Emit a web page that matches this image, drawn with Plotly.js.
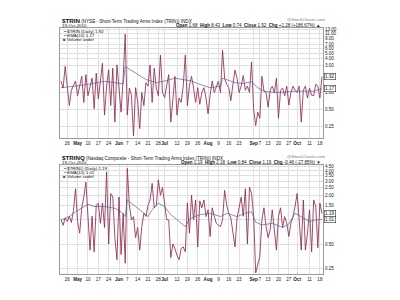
<!DOCTYPE html>
<html><head><meta charset="utf-8">
<script src="https://cdn.plot.ly/plotly-3.0.1.min.js"></script>
<style>html,body{margin:0;padding:0;background:#fff}#chart{width:400px;height:300px}</style>
</head><body><div id="chart"></div>
<script>
// ---- data ----
const dates = [
'2010-04-21','2010-04-22','2010-04-23','2010-04-26','2010-04-27','2010-04-28','2010-04-29','2010-04-30',
'2010-05-03','2010-05-04','2010-05-05','2010-05-06','2010-05-07','2010-05-10','2010-05-11','2010-05-12','2010-05-13','2010-05-14',
'2010-05-17','2010-05-18','2010-05-19','2010-05-20','2010-05-21','2010-05-24','2010-05-25','2010-05-26','2010-05-27','2010-05-28',
'2010-06-01','2010-06-02','2010-06-03','2010-06-04','2010-06-07','2010-06-08','2010-06-09','2010-06-10','2010-06-11',
'2010-06-14','2010-06-15','2010-06-16','2010-06-17','2010-06-18','2010-06-21','2010-06-22','2010-06-23','2010-06-24','2010-06-25',
'2010-06-28','2010-06-29','2010-06-30','2010-07-01','2010-07-02','2010-07-06','2010-07-07','2010-07-08','2010-07-09',
'2010-07-12','2010-07-13','2010-07-14','2010-07-15','2010-07-16','2010-07-19','2010-07-20','2010-07-21','2010-07-22','2010-07-23',
'2010-07-26','2010-07-27','2010-07-28','2010-07-29','2010-07-30','2010-08-02','2010-08-03','2010-08-04','2010-08-05','2010-08-06',
'2010-08-09','2010-08-10','2010-08-11','2010-08-12','2010-08-13','2010-08-16','2010-08-17','2010-08-18','2010-08-19','2010-08-20',
'2010-08-23','2010-08-24','2010-08-25','2010-08-26','2010-08-27','2010-08-30','2010-08-31','2010-09-01','2010-09-02','2010-09-03',
'2010-09-07','2010-09-08','2010-09-09','2010-09-10','2010-09-13','2010-09-14','2010-09-15','2010-09-16','2010-09-17',
'2010-09-20','2010-09-21','2010-09-22','2010-09-23','2010-09-24','2010-09-27','2010-09-28','2010-09-29','2010-09-30',
'2010-10-01','2010-10-04','2010-10-05','2010-10-06','2010-10-07','2010-10-08','2010-10-11','2010-10-12','2010-10-13','2010-10-14','2010-10-15',
'2010-10-18','2010-10-19'];

const trin = [
1.6,1.2,2.9,1.4,0.59,1.1,1.3,1.6,0.88,1.4,
1.94,0.67,2.08,0.88,1.3,1.81,0.52,2.21,0.77,1.5,
3.29,0.40,1.3,2.53,0.59,2.7,0.30,3.09,1.0,0.45,
1.8,10.8,0.40,1.2,0.9,0.17,1.22,0.7,0.23,1.0,
0.59,1.5,1.3,3.09,0.67,2.7,1.2,0.88,4.6,1.0,
0.82,1.3,2.08,0.30,0.9,1.94,0.40,0.8,0.67,1.3,
4.6,0.59,1.3,1.94,1.2,0.67,1.22,0.62,1.0,1.22,
0.8,0.42,0.9,1.6,1.0,1.22,1.59,1.0,5.6,1.8,
1.4,1.22,0.72,1.4,2.5,1.8,1.0,1.3,2.0,1.1,
1.3,1.0,3.5,0.5,0.26,0.45,0.35,1.94,1.06,1.0,
0.55,1.1,1.3,1.0,1.8,0.35,1.1,1.2,0.88,1.3,
0.6,1.0,1.3,1.1,1.0,1.3,0.30,1.1,1.3,0.8,
1.2,0.9,0.88,1.4,1.3,0.8,1.92];

const trinq = [
1.0,0.85,1.05,0.95,1.1,0.92,1.3,2.4,0.95,0.68,
1.4,1.9,2.9,1.0,0.42,1.1,0.40,1.5,1.6,0.9,
1.6,0.8,3.9,0.5,2.1,1.9,0.6,0.32,1.9,0.37,
1.2,0.29,4.3,1.5,0.99,1.09,0.6,0.8,0.42,0.82,
1.2,1.1,1.5,1.75,2.8,1.4,1.5,3.1,2.0,2.5,
1.45,1.0,0.99,0.34,0.5,0.44,0.36,0.32,0.44,0.46,
0.4,1.6,0.68,2.0,1.0,1.75,0.46,1.7,1.4,1.75,
1.09,1.32,0.62,1.4,1.1,0.9,0.85,0.82,1.0,2.3,
1.5,1.2,1.05,0.7,0.46,1.05,1.4,1.9,1.1,2.4,
0.5,2.5,2.1,1.1,0.22,0.29,0.35,1.0,1.4,0.82,
0.6,0.75,1.32,0.75,0.42,1.09,1.4,0.8,1.09,0.9,
0.62,0.9,1.09,1.45,2.1,1.0,0.42,1.75,0.42,0.68,
1.32,0.4,1.75,1.45,0.45,1.6,1.19];

const emaTrinIdx  = [0,4,7,12,17,21,26,30,31,36,41,46,50,55,60,63,67,72,77,78,84,88,92,95,98,103,108,113,118,122,126];
const emaTrinVals = [1.22,1.25,1.3,1.38,1.48,1.58,1.5,1.42,2.9,2.2,1.7,1.5,1.6,1.8,1.7,1.6,1.4,1.22,1.3,1.8,1.5,1.45,1.55,1.22,1.06,1.0,1.02,1.06,1.06,1.06,1.17];

const emaTrinqIdx  = [0,4,7,12,13,16,21,26,29,31,32,36,39,42,44,47,50,53,57,60,62,63,67,72,77,80,85,89,92,94,97,102,107,110,113,116,120,123,126];
const emaTrinqVals = [0.99,1.09,1.25,1.5,1.55,1.45,1.45,1.38,1.25,1.09,1.75,1.45,1.25,1.09,1.32,1.6,1.45,1.15,0.95,0.82,1.0,1.05,1.15,1.2,1.09,1.2,1.09,1.2,1.25,0.93,0.86,0.9,0.8,0.88,1.2,1.09,0.95,0.99,1.01];

const tickDates = ['2010-04-26','2010-05-03','2010-05-10','2010-05-17','2010-05-24','2010-06-01','2010-06-07','2010-06-14','2010-06-21','2010-06-28','2010-07-01','2010-07-12','2010-07-19','2010-07-26','2010-08-02','2010-08-09','2010-08-16','2010-08-23','2010-09-01','2010-09-07','2010-09-13','2010-09-20','2010-09-27','2010-10-01','2010-10-11','2010-10-18'];
const tickLabels = ['26','<b>May</b>','10','17','24','<b>Jun</b>','7','14','21','28','<b>Jul</b>','12','19','26','<b>Aug</b>','9','16','23','<b>Sep</b>','7','13','20','27','<b>Oct</b>','11','18'];

const yTicksTop = [0.25,0.5,1,3,4,5,6,7,9,11,13];
const yTicksBot = [0.25,0.5,1,1.5,2,2.5,3,3.5,4,4.5];

// ---- styling ----
const FONT = 'Liberation Sans, Arial, sans-serif';
const PRICE = '#8e2d52';
const EMA = '#56609a';
const GRID = '#e0e0e0';
const W = 400, H = 300, ML = 60, MR = 77, MT = 28, MB = 26;
const px = x => (x - ML) / (W - ML - MR);
const py = y => (H - MB - y) / (H - MT - MB);

const traces = [
  {x: dates, y: trin, xaxis:'x', yaxis:'y', type:'scatter', mode:'lines', line:{color:PRICE, width:0.85}, hoverinfo:'skip'},
  {x: emaTrinIdx.map(i => dates[i]), y: emaTrinVals, xaxis:'x', yaxis:'y', type:'scatter', mode:'lines', line:{color:EMA, width:0.7}, hoverinfo:'skip'},
  {x: dates, y: trinq, xaxis:'x2', yaxis:'y2', type:'scatter', mode:'lines', line:{color:PRICE, width:0.85}, hoverinfo:'skip'},
  {x: emaTrinqIdx.map(i => dates[i]), y: emaTrinqVals, xaxis:'x2', yaxis:'y2', type:'scatter', mode:'lines', line:{color:EMA, width:0.7}, hoverinfo:'skip'}
];

const xBase = {
  type:'date', range:['2010-04-20 12:00','2010-10-19 12:00'],
  rangebreaks:[{bounds:['sat','mon']},{values:['2010-05-31','2010-07-05','2010-09-06']}],
  tickvals: tickDates, ticktext: tickLabels, tickangle:0,
  tickfont:{family:FONT, size:4.6, color:'#222'},
  showgrid:true, gridcolor:GRID, gridwidth:1,
  showline:true, mirror:true, linecolor:'#9a9a9a', linewidth:1,
  ticks:'', zeroline:false, fixedrange:true
};
const yBase = {
  type:'log', side:'right',
  tickfont:{family:FONT, size:4.6, color:'#222'},
  showgrid:true, gridcolor:GRID, gridwidth:1,
  showline:true, mirror:true, linecolor:'#9a9a9a', linewidth:1,
  ticks:'', zeroline:false, fixedrange:true
};

function txt(x, y, text, size, anchor, color) {
  return {xref:'paper', yref:'paper', x:px(x), y:py(y), text:text, showarrow:false,
    xanchor:anchor||'left', yanchor:'middle', font:{family:FONT, size:size, color:color||'#111'}};
}
function box(yref, v, label) {
  return {xref:'paper', yref:yref, x:px(324), y:Math.log10(v), text:label, showarrow:false,
    xanchor:'left', yanchor:'middle', font:{family:FONT, size:4.6, color:'#111'},
    bgcolor:'#fff', bordercolor:'#333', borderwidth:0.6, borderpad:0.5};
}
const B = s => '<b>' + s + '</b>';
const S = (s, sz) => "<span style='font-size:" + sz + "px'>" + s + '</span>';

const annotations = [
  // top panel
  txt(60, 20.5, S(B('$TRIN'), 6.2) + ' (NYSE - Short-Term Trading Arms Index (TRIN)) INDX', 4.6),
  txt(60, 25.5, '19-Oct-2010', 4.4),
  txt(327, 19.5, '@StockCharts.com', 4.4, 'right', '#777'),
  txt(323, 25.5, B('Open') + ' 1.68  ' + B('High') + ' 8.43  ' + B('Low') + ' 0.74  ' + B('Close') + ' 1.92  ' + B('Chg') + ' +1.28 (+186.67%) ▲', 4.5, 'right'),
  txt(61, 31.5, "<span style='color:" + PRICE + "'>━</span> $TRIN (Daily) 1.92", 4.4),
  txt(61, 35.5, "<span style='color:" + EMA + "'>━</span> EMA(10) 1.17", 4.4),
  txt(61, 39.5, "<span style='color:#555'>■</span> Volume undef", 4.4),
  box('y', 1.92, '1.92'),
  box('y', 1.17, '1.17'),
  // bottom panel
  txt(60, 157, S(B('$TRINQ'), 6.2) + ' (Nasdaq Composite - Short-Term Trading Arms Index (TRIN)) INDX', 4.6),
  txt(60, 162.5, '19-Oct-2010', 4.4),
  txt(327, 156.5, '@StockCharts.com', 4.4, 'right', '#777'),
  txt(323, 162.5, B('Open') + ' 1.19  ' + B('High') + ' 2.18  ' + B('Low') + ' 0.84  ' + B('Close') + ' 1.19  ' + B('Chg') + ' -0.46 (-27.85%) ▼', 4.5, 'right'),
  txt(61, 168.5, "<span style='color:" + PRICE + "'>━</span> $TRINQ (Daily) 1.19", 4.4),
  txt(61, 172.5, "<span style='color:" + EMA + "'>━</span> EMA(10) 1.01", 4.4),
  txt(61, 176.5, "<span style='color:#555'>■</span> Volume undef", 4.4),
  box('y2', 1.19, '1.19'),
  box('y2', 1.01, '1.01')
];

const layout = {
  width: W, height: H, margin:{l:ML, r:MR, t:MT, b:MB, pad:0},
  paper_bgcolor:'#fff', plot_bgcolor:'#fff', showlegend:false,
  font:{family:FONT},
  xaxis: Object.assign({}, xBase, {anchor:'y'}),
  xaxis2: Object.assign({}, xBase, {anchor:'y2', matches:'x'}),
  yaxis: Object.assign({}, yBase, {anchor:'x', domain:[py(138), 1],
    range:[Math.log10(0.157), Math.log10(13.9)],
    tickvals: yTicksTop, ticktext: yTicksTop.map(v => v.toFixed(2))}),
  yaxis2: Object.assign({}, yBase, {anchor:'x2', domain:[0, py(165)],
    range:[Math.log10(0.213), Math.log10(4.73)],
    tickvals: yTicksBot, ticktext: yTicksBot.map(v => v.toFixed(2))}),
  annotations: annotations
};

Plotly.newPlot('chart', traces, layout, {staticPlot:true, displayModeBar:false});
</script></body></html>
